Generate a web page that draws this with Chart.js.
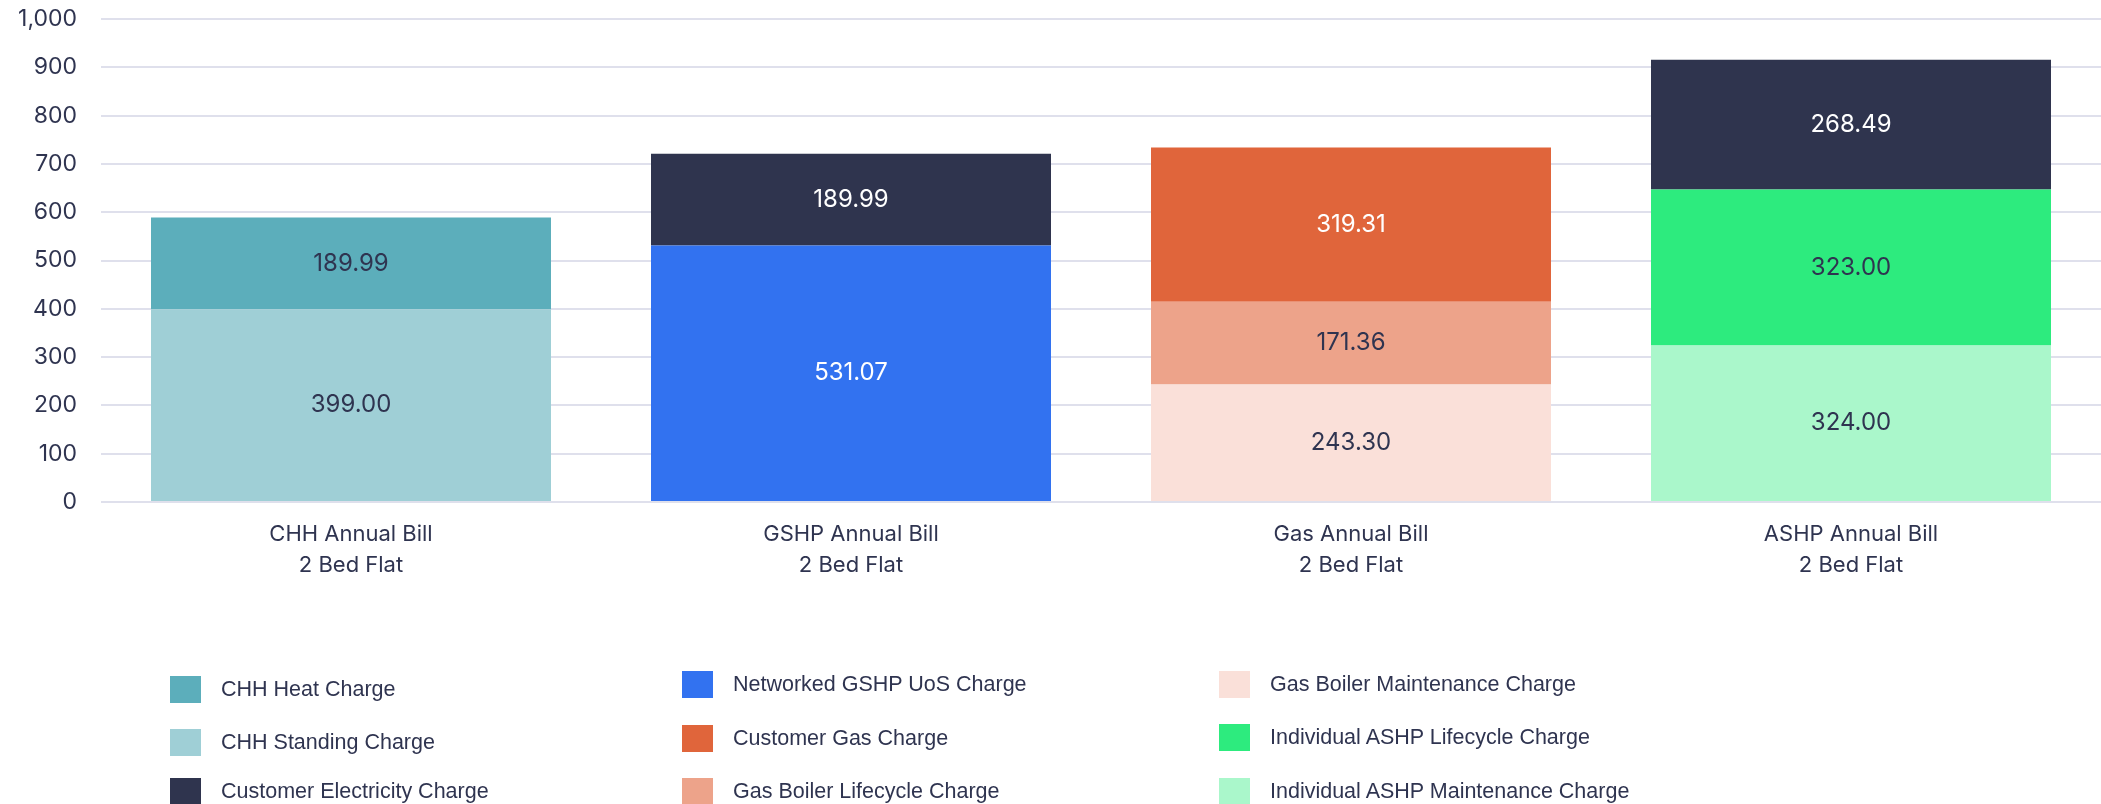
<!DOCTYPE html>
<html>
<head>
<meta charset="utf-8">
<script src="https://cdn.jsdelivr.net/npm/chart.js@4"></script>
<style>
  html, body { margin: 0; padding: 0; background: #ffffff; }
  #wrap { position: relative; width: 2101px; height: 804px; overflow: hidden; }
  #chart { position: absolute; left: 0; top: 0; }
  .lg { position: absolute; display: flex; align-items: center; font-family: "Liberation Sans", Arial, sans-serif; font-size: 21.5px; color: #2f3450; white-space: nowrap; }
  .lg .sw { width: 31px; height: 27px; margin-right: 20px; flex: none; }
</style>
</head>
<body>
<div id="wrap">
  <canvas id="chart" width="2101" height="804"></canvas>
  <div id="legend"></div>
</div>
<script>
// ---- data ----
const categories = [
  ["CHH Annual Bill", "2 Bed Flat"],
  ["GSHP Annual Bill", "2 Bed Flat"],
  ["Gas Annual Bill", "2 Bed Flat"],
  ["ASHP Annual Bill", "2 Bed Flat"]
];
const chhStanding        = [399.00, null, null, null];
const chhHeat            = [189.99, null, null, null];
const gshpUoS            = [null, 531.07, null, null];
const gasBoilerMaint     = [null, null, 243.30, null];
const gasBoilerLifecycle = [null, null, 171.36, null];
const customerGas        = [null, null, 319.31, null];
const ashpMaint          = [null, null, null, 324.00];
const ashpLifecycle      = [null, null, null, 323.00];
const customerElec       = [null, 189.99, null, 268.49];
const yTicks = [0, 100, 200, 300, 400, 500, 600, 700, 800, 900, 1000];
const legendOrder = [
  "CHH Heat Charge", "CHH Standing Charge", "Customer Electricity Charge",
  "Networked GSHP UoS Charge", "Customer Gas Charge", "Gas Boiler Lifecycle Charge",
  "Gas Boiler Maintenance Charge", "Individual ASHP Lifecycle Charge", "Individual ASHP Maintenance Charge"
];

const DARK = "#2f3450";
const datasets = [
  { label: "CHH Standing Charge", data: chhStanding, backgroundColor: "#9fcfd6", valueColor: DARK },
  { label: "CHH Heat Charge", data: chhHeat, backgroundColor: "#5caebb", valueColor: DARK },
  { label: "Networked GSHP UoS Charge", data: gshpUoS, backgroundColor: "#3272f0", valueColor: "#ffffff" },
  { label: "Gas Boiler Maintenance Charge", data: gasBoilerMaint, backgroundColor: "#fae0d9", valueColor: DARK },
  { label: "Gas Boiler Lifecycle Charge", data: gasBoilerLifecycle, backgroundColor: "#eda38a", valueColor: DARK },
  { label: "Customer Gas Charge", data: customerGas, backgroundColor: "#e0653b", valueColor: "#ffffff" },
  { label: "Individual ASHP Maintenance Charge", data: ashpMaint, backgroundColor: "#aaf7cb", valueColor: DARK },
  { label: "Individual ASHP Lifecycle Charge", data: ashpLifecycle, backgroundColor: "#2deb7e", valueColor: DARK },
  { label: "Customer Electricity Charge", data: customerElec, backgroundColor: "#2f344e", valueColor: "#ffffff" }
].map(d => Object.assign(d, { barPercentage: 0.8, categoryPercentage: 1.0, borderWidth: 0 }));

const valueLabels = {
  id: "valueLabels",
  afterDatasetsDraw(chart) {
    const ctx = chart.ctx;
    ctx.save();
    ctx.font = "24px Inter";
    ctx.textAlign = "center";
    ctx.textBaseline = "middle";
    chart.data.datasets.forEach((ds, i) => {
      const meta = chart.getDatasetMeta(i);
      meta.data.forEach((el, j) => {
        const v = ds.data[j];
        if (v === null || v === undefined) return;
        ctx.fillStyle = ds.valueColor;
        ctx.fillText(v.toFixed(2), el.x, (el.y + el.base) / 2);
      });
    });
    ctx.restore();
  }
};

const chart = new Chart(document.getElementById("chart"), {
  type: "bar",
  data: { labels: categories, datasets },
  plugins: [valueLabels],
  options: {
    responsive: false,
    animation: false,
    layout: { padding: { top: 19, right: 0, bottom: 0, left: 0 } },
    plugins: { legend: { display: false }, tooltip: { enabled: false } },
    scales: {
      x: {
        stacked: true,
        grid: { display: false, drawTicks: false },
        border: { display: false },
        ticks: { color: DARK, font: { family: "Inter", size: 22, lineHeight: 1.4 }, padding: 17, maxRotation: 0 },
        afterFit(s) { s.height = 804 - 502; }
      },
      y: {
        stacked: true,
        min: 0, max: 1000,
        afterBuildTicks(s) { s.ticks = yTicks.map(v => ({ value: v })); },
        grid: { color: "#dfe0ec", lineWidth: 2, drawTicks: true, tickLength: 24, tickColor: "rgba(0,0,0,0)" },
        border: { display: false },
        ticks: { color: DARK, font: { family: "Inter", size: 23 }, padding: 0,
                 callback: v => v.toLocaleString("en-US") },
        afterFit(s) { s.width = 101; }
      }
    }
  }
});

// ---- HTML legend built from datasets ----
const colLeft = [170, 682, 1219];
const rowTops = [[676, 729, 778], [671, 725, 778], [671, 724, 778]];
const legendEl = document.getElementById("legend");
legendOrder.forEach((name, k) => {
  const ds = datasets.find(d => d.label === name);
  const col = Math.floor(k / 3), row = k % 3;
  const item = document.createElement("div");
  item.className = "lg";
  item.style.left = colLeft[col] + "px";
  item.style.top = rowTops[col][row] + "px";
  item.style.height = "27px";
  const sw = document.createElement("span");
  sw.className = "sw";
  sw.style.background = ds.backgroundColor;
  const tx = document.createElement("span");
  tx.textContent = ds.label;
  item.appendChild(sw);
  item.appendChild(tx);
  legendEl.appendChild(item);
});
</script>
</body>
</html>
